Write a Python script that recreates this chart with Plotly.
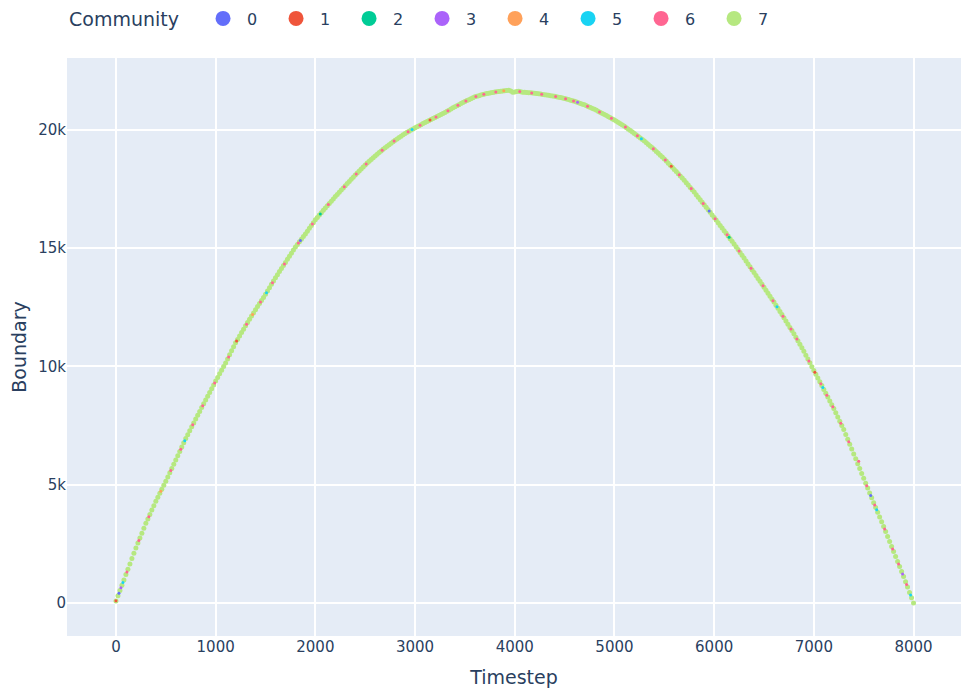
import plotly.graph_objects as go

# Timesteps for community 7 (every 20 steps)
t7 = list(range(0, 8001, 20))
b7 = [
    80, 304, 528, 752, 976,
    1200, 1426, 1652, 1878, 2104,
    2330, 2538, 2746, 2954, 3162,
    3370, 3556, 3742, 3928, 4114,
    4300, 4470, 4640, 4810, 4980,
    5150, 5330, 5510, 5690, 5870,
    6050, 6230, 6410, 6590, 6770,
    6950, 7116, 7282, 7448, 7614,
    7780, 7940, 8100, 8260, 8420,
    8580, 8740, 8900, 9060, 9220,
    9380, 9534, 9688, 9842, 9996,
    10150, 10320, 10490, 10660, 10830,
    11000, 11144, 11288, 11432, 11576,
    11720, 11856, 11992, 12128, 12264,
    12400, 12530, 12660, 12790, 12920,
    13050, 13190, 13330, 13470, 13610,
    13750, 13880, 14010, 14140, 14270,
    14400, 14530, 14660, 14790, 14920,
    15050, 15160, 15270, 15380, 15490,
    15600, 15720, 15840, 15960, 16080,
    16200, 16300, 16400, 16500, 16600,
    16700, 16796, 16892, 16988, 17084,
    17180, 17272, 17364, 17456, 17548,
    17640, 17730, 17820, 17910, 18000,
    18090, 18176, 18262, 18348, 18434,
    18520, 18596, 18672, 18748, 18824,
    18900, 18970, 19040, 19110, 19180,
    19250, 19312, 19374, 19436, 19498,
    19560, 19618, 19676, 19734, 19792,
    19850, 19898, 19946, 19994, 20042,
    20090, 20134, 20178, 20222, 20266,
    20310, 20352, 20394, 20436, 20478,
    20520, 20564, 20608, 20652, 20696,
    20740, 20788, 20836, 20884, 20932,
    20980, 21024, 21068, 21112, 21156,
    21200, 21240, 21280, 21320, 21360,
    21400, 21424, 21448, 21472, 21496,
    21520, 21536, 21552, 21568, 21584,
    21600, 21612, 21624, 21636, 21648,
    21660, 21670, 21680, 21640, 21590,
    21600, 21620, 21630, 21610, 21595,
    21590, 21582, 21574, 21566, 21558,
    21550, 21538, 21526, 21514, 21502,
    21490, 21476, 21462, 21448, 21434,
    21420, 21402, 21384, 21366, 21348,
    21330, 21306, 21282, 21258, 21234,
    21210, 21180, 21150, 21120, 21090,
    21060, 21022, 20984, 20946, 20908,
    20870, 20826, 20782, 20738, 20694,
    20650, 20604, 20558, 20512, 20466,
    20420, 20366, 20312, 20258, 20204,
    20150, 20090, 20030, 19970, 19910,
    19850, 19786, 19722, 19658, 19594,
    19530, 19458, 19386, 19314, 19242,
    19170, 19090, 19010, 18930, 18850,
    18770, 18682, 18594, 18506, 18418,
    18330, 18238, 18146, 18054, 17962,
    17870, 17770, 17670, 17570, 17470,
    17370, 17264, 17158, 17052, 16946,
    16840, 16732, 16624, 16516, 16408,
    16300, 16188, 16076, 15964, 15852,
    15740, 15628, 15516, 15404, 15292,
    15180, 15060, 14940, 14820, 14700,
    14580, 14458, 14336, 14214, 14092,
    13970, 13846, 13722, 13598, 13474,
    13350, 13224, 13098, 12972, 12846,
    12720, 12588, 12456, 12324, 12192,
    12060, 11924, 11788, 11652, 11516,
    11380, 11232, 11084, 10936, 10788,
    10640, 10478, 10316, 10154, 9992,
    9830, 9670, 9510, 9350, 9190,
    9030, 8868, 8706, 8544, 8382,
    8220, 8042, 7864, 7686, 7508,
    7330, 7124, 6918, 6712, 6506,
    6300, 6094, 5888, 5682, 5476,
    5270, 5064, 4858, 4652, 4446,
    4240, 4038, 3836, 3634, 3432,
    3230, 3020, 2810, 2600, 2390,
    2180, 1968, 1756, 1544, 1332,
    1120, 896, 672, 448, 224,
    0,
]

t6 = [110, 230, 330, 550, 650, 770, 870, 990, 1130, 1310, 1450, 1570, 1690, 1830,
      1970, 2130, 2290, 2410, 2510, 2670, 2790, 2930, 3050, 3210, 3330, 3430, 3510,
      3610, 3690, 3810, 4050, 4170, 4270, 4410, 4510, 4590, 4730, 4850, 4970, 5110,
      5230, 5390, 5510, 5650, 5770, 5890, 6010, 6130, 6250, 6370, 6490, 6590, 6690,
      6770, 6830, 6950, 7070, 7130, 7190, 7270, 7350, 7450, 7530, 7610, 7710, 7790,
      7850, 7930]
b6 = [1313, 2642, 3649, 5600, 6500, 7531, 8340, 9300, 10405, 11788, 12725, 13540,
      14335, 15215, 16020, 16844, 17594, 18133, 18558, 19145, 19529, 19922, 20200,
      20542, 20812, 21046, 21220, 21412, 21508, 21606, 21620, 21562, 21508, 21411,
      21318, 21222, 21003, 20760, 20489, 20120, 19754, 19206, 18726, 18100, 17520,
      16893, 16244, 15572, 14880, 14153, 13412, 12783, 12126, 11584, 11158, 10235,
      9270, 8787, 8301, 7597, 6815, 5991, 4961, 4139, 3125, 2285, 1650, 784]

t0 = [30, 1850, 5950, 7570]
b0 = [416, 15325, 16570, 4549]
t1 = [0, 1210, 3150, 5570, 7010]
b1 = [100, 11072, 20415, 18462, 9750]
t2 = [2050, 6150]
b2 = [16450, 15460]
t3 = [50, 4630, 7890]
b3 = [640, 21165, 1226]
t4 = [450, 1370, 3890]
b4 = [4725, 12196, 21654]
t5 = [70, 690, 1510, 2970, 5270, 6630, 7090, 7630, 7970]
b5 = [864, 6860, 13120, 20018, 19626, 12522, 9110, 3937, 336]

communities = ["0", "1", "2", "3", "4", "5", "6", "7"]
colors = ["#636efa", "#EF553B", "#00cc96", "#ab63fa", "#FFA15A", "#19d3f3", "#FF6692", "#B6E880"]
series = {"0": (t0, b0), "1": (t1, b1), "2": (t2, b2), "3": (t3, b3),
          "4": (t4, b4), "5": (t5, b5), "6": (t6, b6), "7": (t7, b7)}

fig = go.Figure()
# legend-only entries (large symbols), in community order
for i, c in enumerate(communities):
    fig.add_trace(go.Scatter(
        x=[None], y=[None], mode="markers", name=c, legendgroup=c,
        marker=dict(color=colors[i], size=15), showlegend=True,
    ))
# community 7 drawn first (underneath), others on top as specks
draw_order = ["7", "0", "1", "2", "3", "4", "5", "6"]
for c in draw_order:
    i = communities.index(c)
    xs, ys = series[c]
    fig.add_trace(go.Scatter(
        x=xs, y=ys, mode="markers", name=c, legendgroup=c, showlegend=False,
        marker=dict(color=colors[i], size=5 if c == "7" else 3),
    ))

fig.update_layout(
    width=969, height=692,
    template="plotly",
    font=dict(family="DejaVu Sans", size=15, color="#2a3f5f"),
    margin=dict(l=59, r=16, t=50, b=64, autoexpand=False),
    legend=dict(title=dict(text="Community&nbsp;&nbsp;", font=dict(size=19)),
                orientation="h", font=dict(size=16),
                x=0, xanchor="left",
                y=1.0675, yanchor="middle",
                itemsizing="trace", itemwidth=38, entrywidth=20),
    xaxis=dict(title=dict(text="Timestep", font=dict(size=19)), range=[-491, 8476],
               automargin=False, gridwidth=2),
    yaxis=dict(title=dict(text="Boundary", font=dict(size=19)), range=[-1395, 23040],
               automargin=False, gridwidth=2),
)
fig.write_html("out.html")
